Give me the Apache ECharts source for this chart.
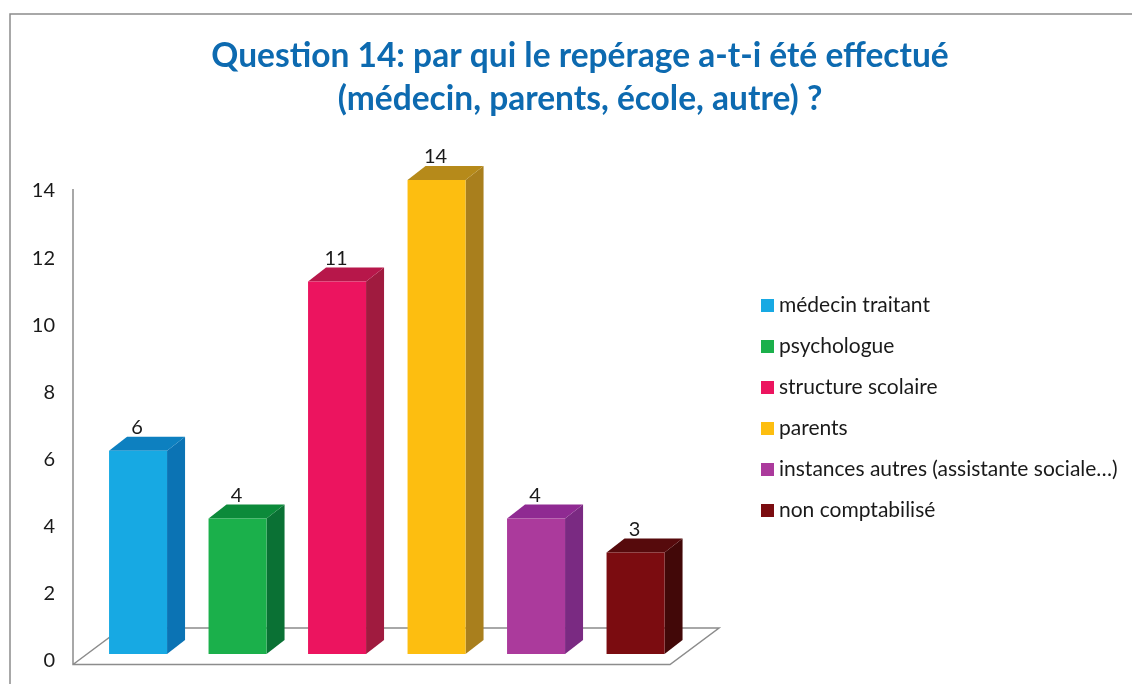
<!DOCTYPE html>
<html>
<head>
<meta charset="utf-8">
<title>Question 14</title>
<style>
  html, body { margin: 0; padding: 0; background: #fff; }
  #chart { width: 1132px; height: 684px; }
</style>
<script src="https://cdn.jsdelivr.net/npm/echarts@6/dist/echarts.min.js"></script>
</head>
<body>
<div id="chart"></div>
<script>
var titleText = 'Question 14: par qui le repérage a-t-i été effectué\n(médecin, parents, école, autre) ?';
var categories = ['médecin traitant', 'psychologue', 'structure scolaire', 'parents', 'instances autres (assistante sociale…)', 'non comptabilisé'];
var counts = [6, 4, 11, 14, 4, 3];
var tickMax = 14;
var tickStep = 2;

// front / side / top of each bar
var frontColors = ['#17a9e3', '#1bb04b', '#ec145f', '#fdbe10', '#ab3a9c', '#7b0c10'];
var sideColors = ['#0b73b4', '#0a7134', '#a01b3f', '#a97f1d', '#7a2a82', '#420808'];
var topColors = ['#0d80c0', '#0c8a3a', '#b7174a', '#b68a1a', '#8f2a92', '#560a0c'];

var fontName = 'Lato, "Noto Sans", sans-serif';
var barWidth = 58;
var depthX = 18, depthY = 14;   // fake 3d depth of a bar
var floorX = 15.3, floorY = 7;  // bars stand a bit inside the floor
var heightScale = 1.0085;       // perspective: bars rise slightly faster than the axis labels

function renderBar(params, api) {
    var i = params.seriesIndex - 1;
    var zero = api.coord([api.value(0), 0]);
    var tip = api.coord([api.value(0), api.value(1)]);
    var x0 = zero[0] + floorX - barWidth / 2;
    var x1 = x0 + barWidth;
    var yb = zero[1] - floorY;
    var yt = yb - (zero[1] - tip[1]) * heightScale;
    return {
        type: 'group',
        children: [
            {
                type: 'polygon',
                shape: { points: [[x1, yb], [x1 + depthX, yb - depthY], [x1 + depthX, yt - depthY], [x1, yt]] },
                style: { fill: sideColors[i] }
            },
            {
                type: 'polygon',
                shape: { points: [[x0, yt], [x0 + depthX, yt - depthY], [x1 + depthX, yt - depthY], [x1, yt]] },
                style: { fill: topColors[i] }
            },
            {
                type: 'rect',
                shape: { x: x0, y: yt, width: barWidth, height: yb - yt },
                style: { fill: frontColors[i] }
            },
            {
                type: 'text',
                style: {
                    x: x0 + barWidth / 2 - 1,
                    y: yt - depthY + 1,
                    text: String(api.value(1)),
                    fill: '#1a1a1a',
                    font: '20px ' + fontName,
                    textAlign: 'center',
                    textVerticalAlign: 'bottom'
                }
            }
        ]
    };
}

// floor and vertical axis line, hung on the grid rectangle
function renderFloor(params) {
    var g = params.coordSys;
    var left = g.x, right = g.x + g.width;
    var front = g.y + g.height + 3.5;
    var back = front - 36.5;
    var lineStyle = { fill: null, stroke: '#8c8c8c', lineWidth: 1.5 };
    return {
        type: 'group',
        children: [
            {
                type: 'polyline',
                shape: { points: [[left, g.y - 2], [left, front], [right, front], [right + 49, back], [left + 49, back], [left, front]] },
                style: lineStyle
            }
        ]
    };
}

var series = [{
    name: 'plancher',
    type: 'custom',
    silent: true,
    z: 1,
    data: [[0, 0]],
    encode: { x: 0, y: 1 },
    renderItem: renderFloor
}];
categories.forEach(function (name, i) {
    series.push({
        name: name,
        type: 'custom',
        z: 2,
        itemStyle: { color: frontColors[i] },
        data: [[name, counts[i]]],
        encode: { x: 0, y: 1 },
        renderItem: renderBar
    });
});

var myChart = echarts.init(document.getElementById('chart'));
myChart.setOption({
    animation: false,
    backgroundColor: '#fff',
    title: {
        text: titleText,
        left: 575,
        top: 30,
        textAlign: 'center',
        textStyle: { color: '#0d6ab0', fontFamily: fontName, fontWeight: 'bold', fontSize: 33.5, lineHeight: 43 }
    },
    legend: {
        orient: 'vertical',
        left: 756,
        top: 289,
        data: categories,
        icon: 'rect',
        itemWidth: 13,
        itemHeight: 13,
        itemGap: 18,
        selectedMode: false,
        textStyle: { color: '#1a1a1a', fontFamily: fontName, fontSize: 21, lineHeight: 23 }
    },
    grid: { left: 73, top: 191, width: 597, height: 470 },
    xAxis: {
        type: 'category',
        data: categories,
        axisLine: { show: false },
        axisTick: { show: false },
        axisLabel: { show: false }
    },
    yAxis: {
        type: 'value',
        min: 0,
        max: tickMax,
        interval: tickStep,
        axisLine: { show: false },
        axisTick: { show: false },
        splitLine: { show: false },
        axisLabel: { color: '#1a1a1a', fontFamily: fontName, fontSize: 20, margin: 18, padding: [3, 0, 0, 0] }
    },
    graphic: [{
        type: 'polyline',
        silent: true,
        shape: { points: [[10, 684], [10, 14], [1132, 14]] },
        style: { fill: null, stroke: '#8c8c8c', lineWidth: 1.5 }
    }],
    series: series
});
window.addEventListener('resize', function () {
    myChart.resize();
});
</script>
</body>
</html>
